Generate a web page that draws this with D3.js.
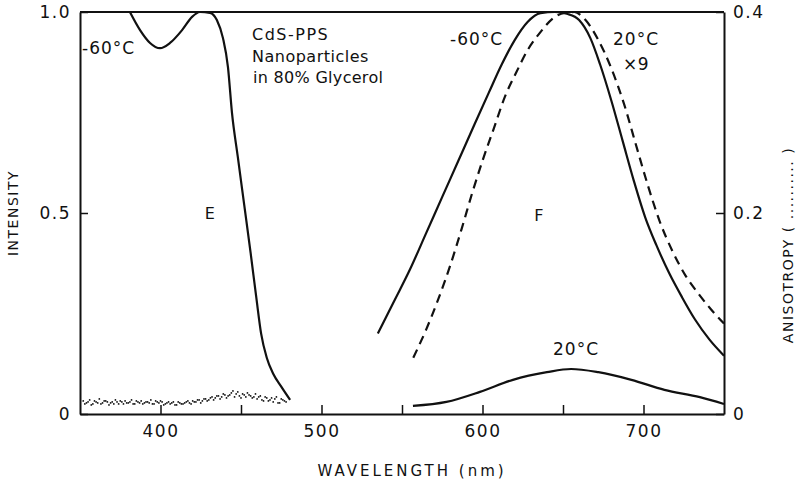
<!DOCTYPE html>
<html><head><meta charset="utf-8">
<script src="https://cdn.jsdelivr.net/npm/d3@7"></script>
<style>
body{margin:0;background:#fff;}
svg{display:block;font-family:"DejaVu Sans",sans-serif;}
</style></head>
<body><svg id="c" width="800" height="480"></svg>
<script>
// ---- data ----
const xTicks = [400,450,500,550,600,650,700];
const leftTicks = [0,0.5,1.0];
const rightTicks = [0,0.2,0.4];
// Excitation spectrum E at -60°C (nm, intensity)
const excNm  = [381,387.3,393.5,399.7,405.9,413.4,419.6,424.5,430.7,435,438.8,441.9,444.4,448,452,456,459.5,462.5,466,470,475,480.5];
const excVal = [1.0,0.955,0.923,0.910,0.923,0.955,0.988,1.0,0.998,0.98,0.935,0.863,0.749,0.64,0.52,0.40,0.29,0.20,0.14,0.10,0.068,0.035];
// Emission F at -60°C (solid)
const emColdNm  = [535,545,555,565,575,585,595,604,612,620,628,636,645,653,660,667,673,680,687,694,701,708,716,724,732,741,750];
const emColdVal = [0.20,0.28,0.36,0.45,0.54,0.63,0.72,0.80,0.87,0.93,0.975,0.997,1.0,0.995,0.98,0.935,0.87,0.78,0.68,0.58,0.49,0.42,0.35,0.29,0.235,0.185,0.145];
// Emission F at 20°C x9 (dashed)
const emWarm9Nm  = [557,565,572,580,587,594,600,607,614,621,628,636,644,651,657,664,672,680,688,696,703,710,718,726,734,742,750];
const emWarm9Val = [0.14,0.21,0.28,0.37,0.46,0.555,0.63,0.71,0.79,0.85,0.905,0.95,0.985,0.998,1.0,0.98,0.93,0.86,0.77,0.66,0.565,0.48,0.405,0.345,0.30,0.26,0.225];
// Emission F at 20°C (solid, low)
const emWarmNm  = [556.8,577.6,598.4,618.9,640,655,672,692.5,713,735,750];
const emWarmVal = [0.02,0.03,0.055,0.085,0.104,0.112,0.104,0.085,0.06,0.042,0.025];
// Anisotropy (dotted, right axis)
const anisoNmA = [352,354,356,358,360,362,364,366,368,370,372,374,376,378,380,382,384,386,388,390,392,394,396,398,400,402,404,406,408,410,412,414,416,418,420,422,424,426,428,430,432,434,436,438,440,442,444,446,448,450,452,454,456,458,460,462,464,466,468,470,472,474,476,478];
const anisoA = [0.013,0.011,0.014,0.010,0.012,0.015,0.011,0.013,0.009,0.012,0.014,0.010,0.012,0.013,0.011,0.014,0.010,0.012,0.013,0.011,0.012,0.014,0.010,0.012,0.013,0.009,0.011,0.010,0.012,0.009,0.011,0.010,0.012,0.011,0.013,0.012,0.014,0.013,0.015,0.014,0.017,0.016,0.018,0.017,0.019,0.018,0.021,0.017,0.022,0.016,0.019,0.021,0.018,0.017,0.015,0.018,0.013,0.016,0.014,0.012,0.017,0.011,0.014,0.012];
const anisoNmB = [353,355,357,359,361,363,365,367,369,371,373,375,377,379,381,383,385,387,389,391,393,395,397,399,401,403,405,407,409,411,413,415,417,419,421,423,425,427,429,431,433,435,437,439,441,443,445,447,449,451,453,455,457,459,461,463,465,467,469,471,473,475,477];
const anisoB = [0.010,0.012,0.009,0.013,0.011,0.010,0.013,0.012,0.011,0.010,0.012,0.013,0.010,0.011,0.012,0.010,0.013,0.011,0.010,0.012,0.011,0.010,0.013,0.011,0.012,0.010,0.012,0.011,0.009,0.012,0.010,0.011,0.013,0.010,0.012,0.014,0.011,0.015,0.013,0.016,0.014,0.018,0.015,0.020,0.016,0.019,0.023,0.020,0.018,0.020,0.017,0.019,0.016,0.020,0.017,0.014,0.017,0.013,0.016,0.015,0.011,0.015,0.013];

// ---- scales ----
const svg = d3.select("#c");
const x = d3.scaleLinear().domain([350,750]).range([80,724]);
const yL = d3.scaleLinear().domain([0,1]).range([414,12]);
const yR = d3.scaleLinear().domain([0,0.4]).range([414,12]);
const ink = "#111";

// frame top
svg.append("line").attr("x1",x(350)).attr("x2",x(750)).attr("y1",yL(1)).attr("y2",yL(1))
  .attr("stroke",ink).attr("stroke-width",2);

// axes
const fmtL = d => d===0 ? "0" : d3.format(".1f")(d);
const gx = svg.append("g").attr("transform",`translate(0,${yL(0)})`)
  .call(d3.axisBottom(x).tickValues(xTicks).tickSizeInner(-9).tickSizeOuter(0).tickPadding(11)
    .tickFormat(d => d%100===0 ? d : ""));
const gl = svg.append("g").attr("transform",`translate(${x(350)},0)`)
  .call(d3.axisLeft(yL).tickValues(leftTicks).tickSizeInner(-8).tickSizeOuter(0).tickPadding(9).tickFormat(fmtL));
const gr = svg.append("g").attr("transform",`translate(${x(750)},0)`)
  .call(d3.axisRight(yR).tickValues(rightTicks).tickSizeInner(-8).tickSizeOuter(0).tickPadding(9).tickFormat(fmtL));
[gx,gl,gr].forEach(g=>{
  g.select(".domain").attr("stroke",ink).attr("stroke-width",2);
  g.selectAll(".tick line").attr("stroke",ink).attr("stroke-width",1.5);
  g.selectAll(".tick text").attr("fill",ink).attr("font-size",17).attr("font-family","DejaVu Sans").attr("letter-spacing",1.5);
});

// curves
const mk = (nm, v, y) => nm.map((d,i)=>[x(d), y(v[i])]);
const line = d3.line().curve(d3.curveMonotoneX);
svg.append("path").attr("d",line(mk(excNm,excVal,yL))).attr("fill","none").attr("stroke",ink).attr("stroke-width",2.2);
svg.append("path").attr("d",line(mk(emColdNm,emColdVal,yL))).attr("fill","none").attr("stroke",ink).attr("stroke-width",2.2);
svg.append("path").attr("d",line(mk(emWarm9Nm,emWarm9Val,yL))).attr("fill","none").attr("stroke",ink).attr("stroke-width",2.2).attr("stroke-dasharray","9,6");
svg.append("path").attr("d",line(mk(emWarmNm,emWarmVal,yL))).attr("fill","none").attr("stroke",ink).attr("stroke-width",2.2);

// anisotropy dots
const dots = mk(anisoNmA,anisoA,yR).concat(mk(anisoNmB,anisoB,yR));
svg.append("g").selectAll("circle").data(dots).join("circle")
  .attr("cx",d=>d[0]).attr("cy",d=>d[1]).attr("r",0.9).attr("fill",ink);

// text
const txt = (s,xx,yy,opt={}) => svg.append("text").attr("x",xx).attr("y",yy).text(s)
  .attr("font-size",opt.fs||16).attr("fill",ink).attr("text-anchor",opt.anchor||"start")
  .attr("letter-spacing",opt.ls==null?0.5:opt.ls);
txt("-60°C",82,54,{fs:17,ls:1});
txt("CdS-PPS",252,40,{fs:16,ls:1.5});
txt("Nanoparticles",252,62,{fs:16,ls:0.5});
txt("in  80%  Glycerol",253,83,{fs:16,ls:0.3});
txt("E",210,219,{fs:16,anchor:"middle"});
txt("F",539,221,{fs:16,anchor:"middle"});
txt("-60°C",450,45,{fs:17,ls:1});
txt("20°C",613,45,{fs:17,ls:1});
txt("×9",623,70,{fs:17});
txt("20°C",553,355,{fs:17,ls:1});
txt("WAVELENGTH  (nm)",412,476,{fs:15,anchor:"middle",ls:3});
svg.append("text").attr("transform","translate(18,213) rotate(-90)").attr("text-anchor","middle")
  .attr("font-size",14).attr("fill",ink).attr("letter-spacing",1.5).text("INTENSITY");
svg.append("text").attr("transform","translate(793,245) rotate(-90)").attr("text-anchor","middle")
  .attr("font-size",14).attr("fill",ink).attr("letter-spacing",1.5).text("ANISOTROPY  ( .......... )");
</script></body></html>
